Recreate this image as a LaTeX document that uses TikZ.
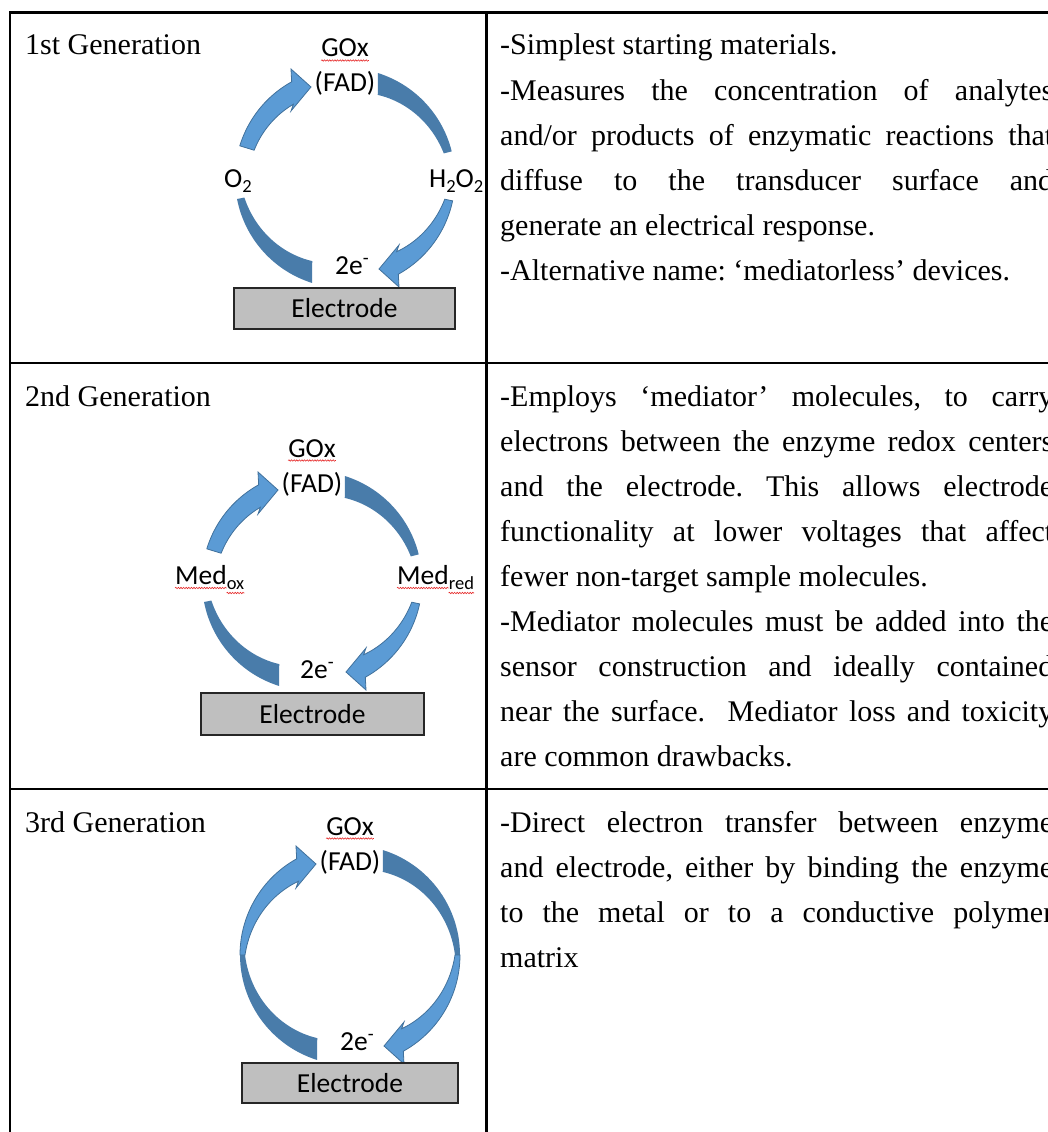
\documentclass[tikz,border=0pt]{standalone}
\usepackage{fontspec}
\setmainfont{Liberation Serif}
\newfontfamily\calibri{Carlito}
\usetikzlibrary{decorations.pathmorphing}
\definecolor{lb}{RGB}{91,155,213}
\definecolor{lbo}{RGB}{65,113,156}
\definecolor{dkb}{RGB}{73,124,170}
\definecolor{elecgray}{RGB}{191,191,191}
\definecolor{squigred}{RGB}{230,40,40}
\frenchspacing
% half of a redox cycle: dark tapered band + light arrow with head
% #1 end angle of dark band, #2 start angle of light arrow, #3 width of light arrow at its tail
\newcommand{\halfcyc}[3]{%
  \fill[dkb] plot[domain=-72.6:#1, samples=30] (\x:110) -- plot[domain=#1:-68.5, samples=30] (\x:{110-(5+16*(-\x)/70)}) -- cycle;
  \filldraw[fill=lb, draw=lbo, line width=0.8pt, line join=miter] plot[domain=#2:61, samples=30] (\x:110) -- (54,109) -- (34,91) -- (54,67) -- plot[domain=55:#2, samples=30] (\x:{110-(#3+(20-#3)*(\x-#2)/(55-#2))}) -- cycle;
}
\newcommand{\jl}[1]{\makebox[553pt][s]{#1}}
\newcommand{\lsub}[1]{\raisebox{-5pt}{\fontsize{18.5}{20}\selectfont #1}}
\begin{document}
\begin{tikzpicture}[x=1pt,y=-1pt,
  rule/.style={line width=2.8pt, line cap=rect},
  txt/.style={font=\fontsize{30}{45}\selectfont, inner sep=0pt, anchor=base west},
  lab/.style={font=\calibri\fontsize{27.5}{33}\selectfont, inner sep=0pt},
  elec/.style={draw=black!85, fill=elecgray, line width=1.8pt, inner sep=0pt, font=\calibri\fontsize{27.5}{33}\selectfont},
  squig/.style={draw=squigred, line width=0.6pt, decorate, decoration={snake, amplitude=0.7pt, segment length=2.6pt}}]
\path[use as bounding box, clip] (0,0) rectangle (1048,1132);
\fill[white] (0,0) rectangle (1048,1132);

% table rules
\draw[rule] (10,12.5) -- (1048,12.5);
\draw[rule] (10,12.5) -- (10,1132);
\draw[rule] (486.5,12.5) -- (486.5,1132);
\draw[rule] (10,363) -- (1048,363);
\draw[rule] (10,789) -- (1048,789);

% row titles
\node[txt] (gen1) at (25,55) {1st Generation};
\node[txt] (gen2) at (25,406) {2nd Generation};
\node[txt] (gen3) at (25,832) {3rd Generation};

% row 1 text
\node[txt] (t1a) at (500,55) {-Simplest starting materials.};
\node[txt] (t1b) at (500,100) {\jl{-Measures the concentration of analytes}};
\node[txt] (t1c) at (500,145) {\jl{and/or products of enzymatic reactions that}};
\node[txt] (t1d) at (500,190) {\jl{diffuse to the transducer surface and}};
\node[txt] (t1e) at (500,235) {generate an electrical response.};
\node[txt] (t1f) at (500,280) {-Alternative name: ‘mediatorless’ devices.};

% row 2 text
\node[txt] (t2a) at (500,406) {\jl{-Employs ‘mediator’ molecules, to carry}};
\node[txt] (t2b) at (500,451) {\jl{electrons between the enzyme redox centers}};
\node[txt] (t2c) at (500,496) {\jl{and the electrode. This allows electrode}};
\node[txt] (t2d) at (500,541) {\jl{functionality at lower voltages that affect}};
\node[txt] (t2e) at (500,586) {fewer non-target sample molecules.};
\node[txt] (t2f) at (500,631) {\jl{-Mediator molecules must be added into the}};
\node[txt] (t2g) at (500,676) {\jl{sensor construction and ideally contained}};
\node[txt] (t2h) at (500,721) {\jl{near the surface.\ \ Mediator loss and toxicity}};
\node[txt] (t2i) at (500,766) {are common drawbacks.};

% row 3 text
\node[txt] (t3a) at (500,832) {\jl{-Direct electron transfer between enzyme}};
\node[txt] (t3b) at (500,877) {\jl{and electrode, either by binding the enzyme}};
\node[txt] (t3c) at (500,922) {\jl{to the metal or to a conductive polymer}};
\node[txt] (t3d) at (500,967) {matrix};

% ---------- diagram 1 ----------
\begin{scope}[shift={(345,178)}]
  \halfcyc{-14}{12}{8}
  \begin{scope}[rotate=180]\halfcyc{-11}{17}{15}\end{scope}
\end{scope}
\node[lab, anchor=base] (g1) at (345,57) {GOx};
\node[lab, anchor=base] (f1) at (345,92) {(FAD)};
\node[lab, anchor=base west] (o1) at (224,187) {O\lsub{2}};
\node[lab, anchor=base west] (h1) at (429,187) {H\lsub{2}O\lsub{2}};
\node[lab, anchor=base west] (x1) at (335,274) {2e\textsuperscript{-}};
\node[elec, minimum width=221pt, minimum height=41pt] (e1) at (344.5,308.5) {Electrode};
\draw[squig] ([shift={(0,3.5)}]g1.base west) -- ([shift={(0,3.5)}]g1.base east);

% ---------- diagram 2 ----------
\begin{scope}[shift={(312,581)}]
  \halfcyc{-14}{12}{8}
  \begin{scope}[rotate=180]\halfcyc{-11}{17}{15}\end{scope}
\end{scope}
\node[lab, anchor=base] (g2) at (312,457) {GOx};
\node[lab, anchor=base] (f2) at (312,492) {(FAD)};
\node[lab, anchor=base west] (m2o) at (175,584) {Med\lsub{ox}};
\node[lab, anchor=base west] (m2r) at (397,584) {Med\lsub{red}};
\node[lab, anchor=base west] (x2) at (300,678) {2e\textsuperscript{-}};
\node[elec, minimum width=223pt, minimum height=42pt] (e2) at (312.5,714) {Electrode};
\draw[squig] ([shift={(0,3.5)}]g2.base west) -- ([shift={(0,3.5)}]g2.base east);
\draw[squig] ([shift={(0,4)}]m2o.base west) -- ([shift={(51.6,4)}]m2o.base west);
\draw[squig] ([shift={(51.6,9)}]m2o.base west) -- ([shift={(0,9)}]m2o.base east);
\draw[squig] ([shift={(0,4)}]m2r.base west) -- ([shift={(51.6,4)}]m2r.base west);
\draw[squig] ([shift={(51.6,9)}]m2r.base west) -- ([shift={(0,9)}]m2r.base east);

% ---------- diagram 3 ----------
\begin{scope}[shift={(350,955)}]
  \halfcyc{0}{0}{5}
  \begin{scope}[rotate=180]\halfcyc{0}{0}{5}\end{scope}
\end{scope}
\node[lab, anchor=base] (g3) at (350,835) {GOx};
\node[lab, anchor=base] (f3) at (350,870) {(FAD)};
\node[lab, anchor=base west] (x3) at (340,1050) {2e\textsuperscript{-}};
\node[elec, minimum width=216pt, minimum height=40pt] (e3) at (350,1083) {Electrode};
\draw[squig] ([shift={(0,3.5)}]g3.base west) -- ([shift={(0,3.5)}]g3.base east);
\end{tikzpicture}
\end{document}
